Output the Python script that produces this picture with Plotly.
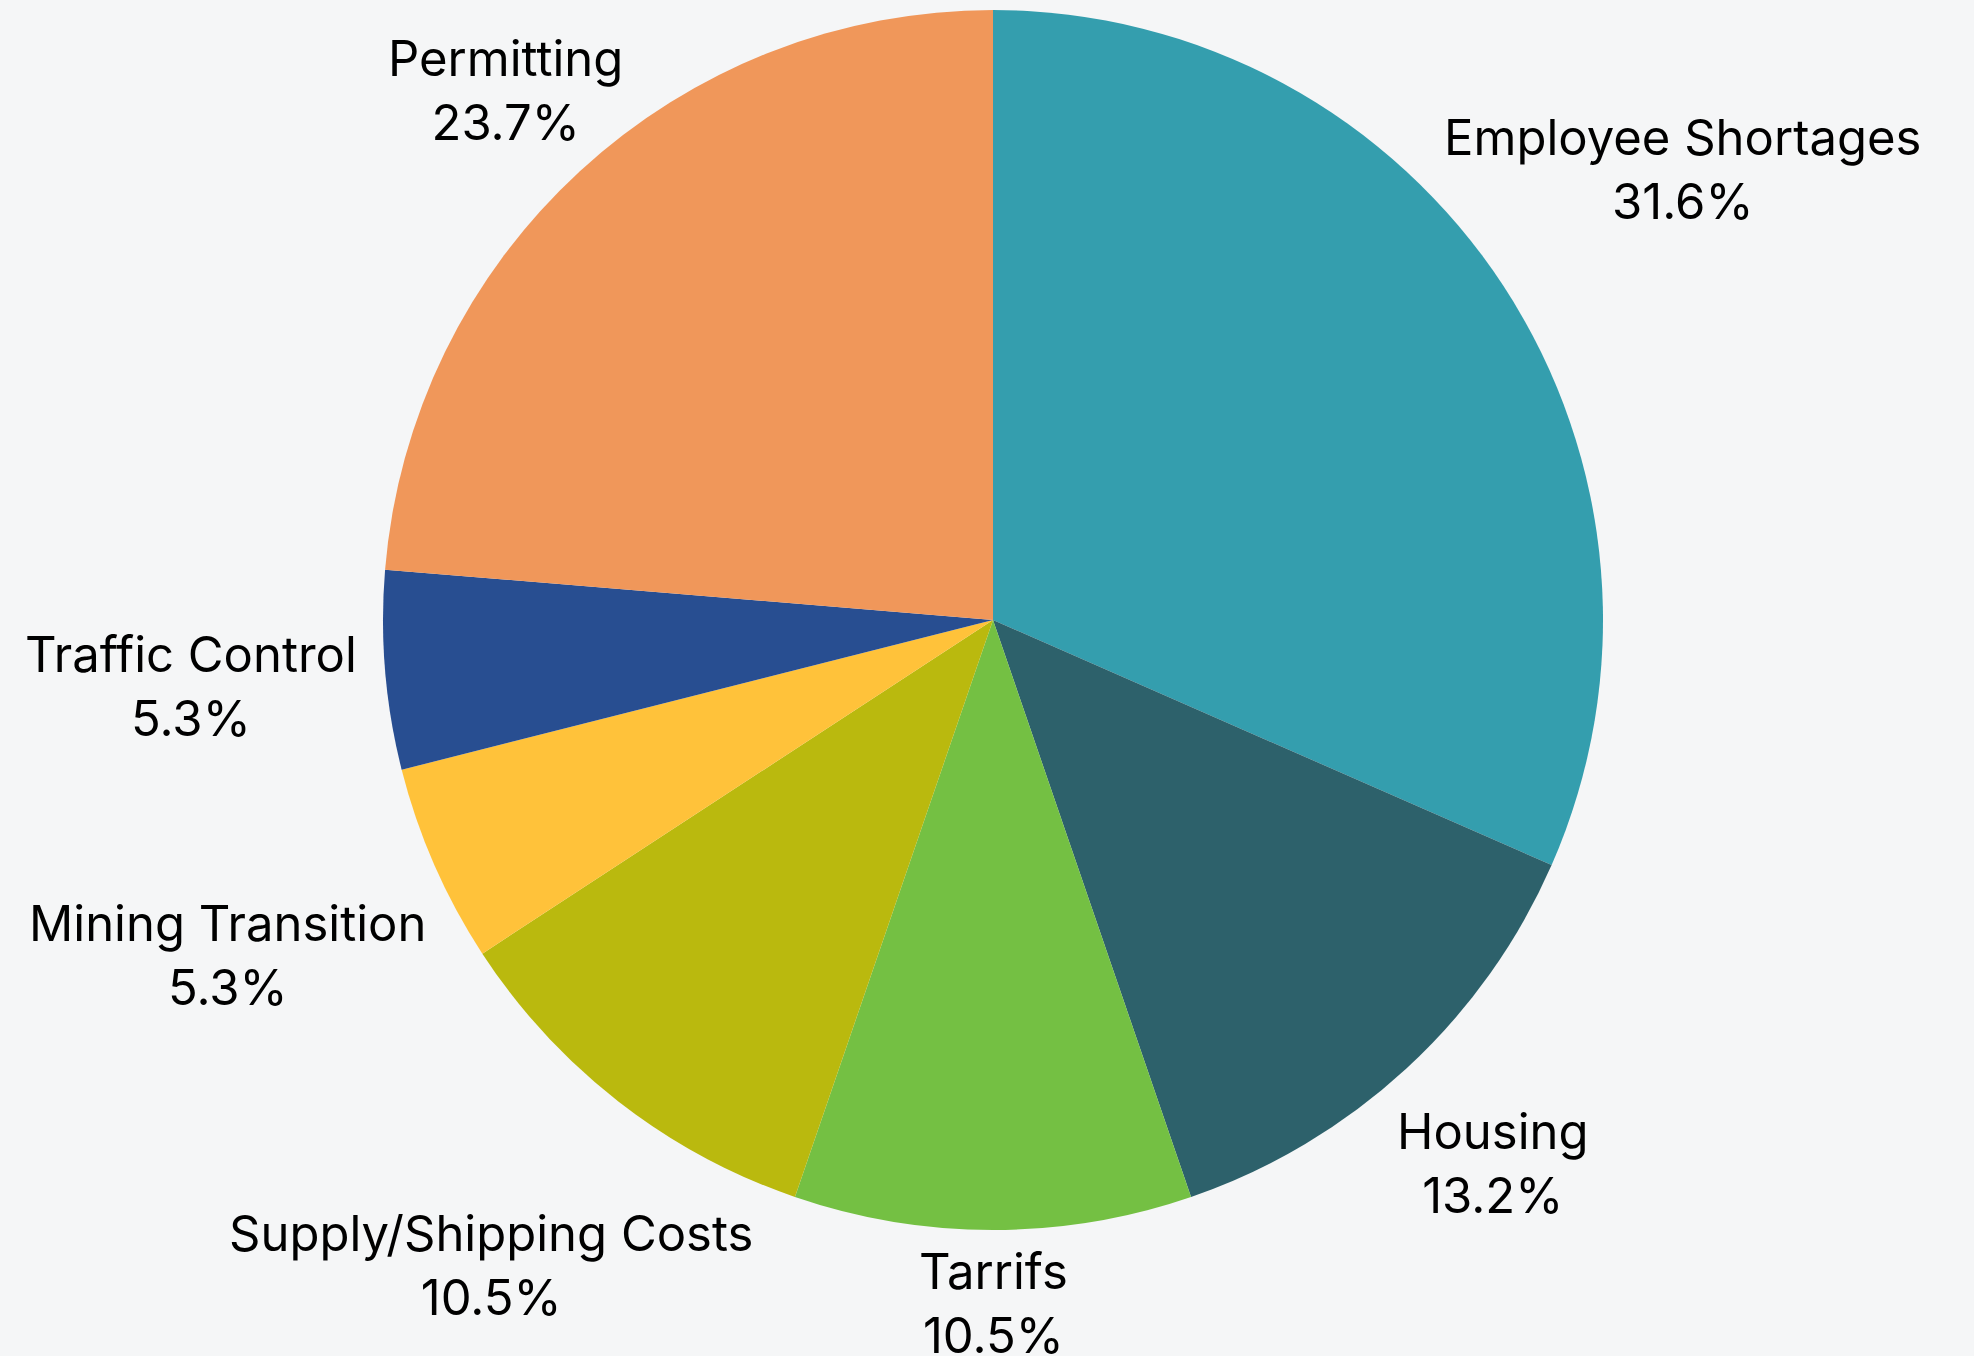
import math
import plotly.graph_objects as go

categories = ["Employee Shortages", "Housing", "Tarrifs", "Supply/Shipping Costs",
              "Mining Transition", "Traffic Control", "Permitting"]
counts = [12, 5, 4, 4, 2, 2, 9]
colors = ["#349EAE", "#2D616B", "#74C043", "#BAB90E", "#FFC23A", "#284E91", "#F0975A"]
# radial distance of each outside label, as a multiple of the pie radius
label_dist = [1.35, 1.21, 1.12, 1.34, 1.37, 1.32, 1.18]

W, H = 1974, 1356
cx, cy, r = 993, 620, 610  # pie centre / radius in px (screen coords)

fig = go.Figure(go.Pie(
    labels=categories,
    values=counts,
    sort=False,
    direction="clockwise",
    rotation=0,
    marker=dict(colors=colors, line=dict(width=0)),
    textinfo="none",
    showlegend=False,
    domain=dict(x=[(cx - r) / W, (cx + r) / W],
                y=[(H - cy - r) / H, (H - cy + r) / H]),
    hovertemplate="%{label}: %{percent:.1%}<extra></extra>",
))

total = sum(counts)
cum = 0
annotations = []
for name, v, k in zip(categories, counts, label_dist):
    mid = (cum + v / 2) / total * 2 * math.pi
    cum += v
    px = cx + k * r * math.sin(mid)
    py = cy - k * r * math.cos(mid)
    annotations.append(dict(
        x=px / W, y=1 - py / H, xref="paper", yref="paper",
        xanchor="center", yanchor="middle", showarrow=False,
        text=f"{name}<br>{v / total * 100:.1f}%",
        font=dict(family="Inter", size=49, color="#000000"),
    ))

fig.update_layout(
    width=W, height=H,
    margin=dict(l=0, r=0, t=0, b=0),
    paper_bgcolor="#F5F6F7",
    plot_bgcolor="#F5F6F7",
    annotations=annotations,
)

fig.write_html("out.html",
               config={"displayModeBar": False},
               post_script="document.body.style.margin='0';document.body.style.overflow='hidden';")
